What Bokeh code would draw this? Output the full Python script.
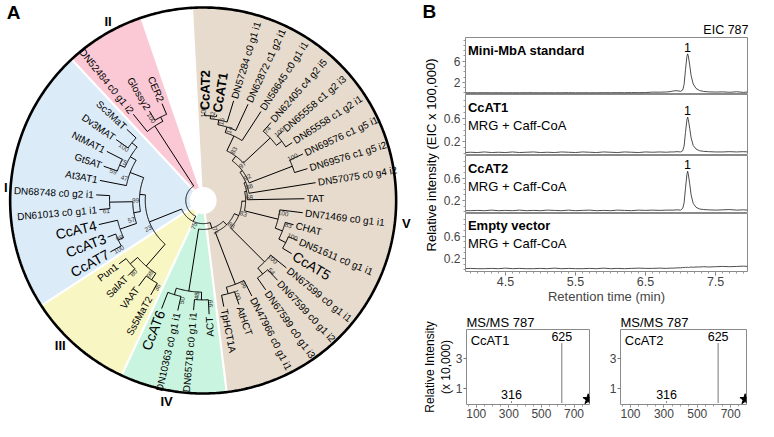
import math
from bokeh.plotting import figure
from bokeh.layouts import row, column
from bokeh.models import Range1d, FixedTicker, Label, Title
from bokeh.core.properties import value
from bokeh.embed import file_html
from bokeh.resources import INLINE

FONT = "Liberation Sans"

# ====================== Panel A data (tree) ======================
leaf_names = ["CcAT2", "CcAT1", "DN57284 c0 g1 i1", "DN62872 c1 g2 i1", "DN58645 c0 g1 i1",
              "DN62405 c4 g2 i5", "DN65558 c1 g2 i3", "DN65558 c1 g2 i1", "DN69576 c1 g5 i1",
              "DN69576 c1 g5 i2", "DN57075 c0 g4 i2", "TAT", "DN71469 c0 g1 i1", "CHAT",
              "DN51611 c0 g1 i1", "CcAT5", "DN67599 c0 g1 i1", "DN67599 c0 g1 i2",
              "DN67599 c0 g1 i3", "DN47966 c0 g1 i1", "AtHCT", "TpHCT1A",
              "ACT", "DN65718 c0 g1 i1", "DN10363 c0 g1 i1", "CcAT6",
              "Ss5MaT2", "VAAT", "SalAT", "Pun1",
              "CcAT7", "CcAT3", "CcAT4", "DN61013 c0 g1 i1", "DN68748 c0 g2 i1", "At3AT1",
              "Gt5AT", "NtMAT1", "Dv3MAT", "Sc3MaT",
              "DN52484 c0 g1 i2", "Glossy2", "CER2"]
leaf_depth = [91, 90, 108, 110, 110, 107, 109, 110, 114, 113, 118, 105, 104, 97, 106,
              107, 111, 113, 113, 111, 114, 112, 118, 114, 117, 120, 112, 111, 110, 109,
              110, 106, 111, 108, 111, 109, 109, 112, 110, 108, 115, 108, 109]
leaf_clade = ["V"] * 22 + ["IV"] * 4 + ["III"] * 4 + ["I"] * 10 + ["II"] * 3
bold_leaves = ["CcAT1", "CcAT2"]
big_leaves = ["CcAT3", "CcAT4", "CcAT5", "CcAT6", "CcAT7"]

# internal nodes: (depth, bootstrap, children)
nd_a = (88, 100, [0, 1])
nd_b = (85, 32, [nd_a, 2])
nd_c = (80, 15, [nd_b, 3])
nd_d = (74, 14, [nd_c, 4])
nd_e = (95, 74, [5, (102, 100, [6, 7])])
nd_f = (57, 83, [nd_d, nd_e])
nd_g = (51, 97, [nd_f, (99, 100, [8, 9])])
nd_h = (48, 92, [nd_g, 10])
nd_i = (46, 88, [nd_h, 11])
nd_j = (80, 100, [12, (88, 83, [13, (96, 100, [14, 15])])])
nd_k = (44, 68, [nd_i, nd_j])
nd_m = (90, 100, [16, (98, 54, [17, 18])])
nd_l = (40, 83, [nd_k, nd_m])
nd_hct = (93, 96, [19, (100, 100, [20, 21])])
clade_V = (35, 86, [nd_l, nd_hct])
clade_IV = (95, 48, [(103, 99, [22, 23]), (102, 50, [24, 25])])
clade_III = (90, 98, [(98, 36, [26, 27]), (100, 80, [28, 29])])
nd_t = (91, 99, [(97, 100, [30, 31]), 32])
nd_u = (97, 61, [33, 34])
nd_v = (73, 57, [nd_t, nd_u])
nd_s = (81, 47, [35, (88, 75, [(94, 59, [36, 37]), (95, 100, [38, 39])])])
clade_I = (66, 99, [nd_v, nd_s])
clade_II = (92, None, [40, (97, 100, [41, 42])])
tree = (18, None, [(24, 75, [(30, 71, [clade_V, clade_IV]), (60, 23, [clade_III, clade_I])]),
                   clade_II])

clade_names = ["V", "IV", "III", "I", "II"]
clade_colors = {"V": "#e6dbcd", "IV": "#c9f4df", "III": "#f8f6c3", "I": "#dcebf8", "II": "#fbc9d5"}

# ====================== Panel B data ======================
rt = [3.93, 4.0, 4.1, 4.2, 4.3, 4.4, 4.5, 4.6, 4.7, 4.8, 4.9, 5.0, 5.1, 5.2, 5.3, 5.4, 5.5,
      5.6, 5.7, 5.8, 5.9, 6.0, 6.1, 6.2, 6.3, 6.4, 6.5, 6.6, 6.7, 6.8, 6.85, 6.9, 6.95, 7.0,
      7.03, 7.05, 7.07, 7.09, 7.1, 7.11, 7.13, 7.15, 7.18, 7.22, 7.27, 7.33, 7.4, 7.5, 7.6,
      7.7, 7.8, 7.9, 7.955]
eic_standard = [0.02, 0.03, 0.02, 0.04, 0.02, 0.03, 0.02, 0.03, 0.02, 0.04, 0.03, 0.02, 0.03,
                0.02, 0.03, 0.04, 0.02, 0.03, 0.02, 0.03, 0.04, 0.03, 0.05, 0.04, 0.06, 0.05,
                0.07, 0.15, 0.14, 0.18, 0.25, 0.38, 0.42, 0.3, 0.55, 1.6, 4.4, 6.9, 7.4, 7.0,
                5.3, 3.3, 1.7, 0.85, 0.45, 0.28, 0.2, 0.16, 0.2, 0.12, 0.22, 0.1, 0.18]
eic_ccat1 = [0.02, 0.025, 0.02, 0.03, 0.02, 0.025, 0.02, 0.03, 0.02, 0.025, 0.03, 0.02, 0.025,
             0.02, 0.03, 0.025, 0.02, 0.03, 0.025, 0.02, 0.03, 0.025, 0.02, 0.03, 0.025, 0.02,
             0.03, 0.025, 0.03, 0.025, 0.03, 0.03, 0.035, 0.03, 0.05, 0.13, 0.36, 0.57, 0.62,
             0.58, 0.43, 0.27, 0.14, 0.08, 0.05, 0.04, 0.035, 0.03, 0.03, 0.035, 0.03, 0.035,
             0.03]
eic_ccat2 = [0.02, 0.02, 0.025, 0.02, 0.03, 0.02, 0.025, 0.02, 0.03, 0.02, 0.025, 0.02, 0.03,
             0.025, 0.02, 0.03, 0.02, 0.025, 0.03, 0.02, 0.025, 0.02, 0.03, 0.025, 0.02, 0.03,
             0.025, 0.03, 0.025, 0.03, 0.03, 0.03, 0.035, 0.03, 0.06, 0.16, 0.42, 0.66, 0.72,
             0.67, 0.5, 0.3, 0.15, 0.08, 0.05, 0.04, 0.035, 0.03, 0.035, 0.04, 0.03, 0.035,
             0.03]
eic_empty = [0.02, 0.025, 0.02, 0.02, 0.025, 0.02, 0.03, 0.02, 0.025, 0.02, 0.02, 0.025, 0.02,
             0.03, 0.02, 0.025, 0.02, 0.02, 0.025, 0.02, 0.03, 0.02, 0.025, 0.02, 0.025, 0.03,
             0.025, 0.025, 0.03, 0.025, 0.03, 0.03, 0.035, 0.035, 0.04, 0.04, 0.045, 0.04,
             0.045, 0.04, 0.045, 0.05, 0.045, 0.05, 0.05, 0.055, 0.05, 0.055, 0.06, 0.055,
             0.06, 0.065, 0.06]
eic_traces = [eic_standard, eic_ccat1, eic_ccat2, eic_empty]
eic_titles = ["Mini-MbA standard", "CcAT1", "CcAT2", "Empty vector"]
eic_subtitles = ["", "MRG + Caff-CoA", "MRG + Caff-CoA", "MRG + Caff-CoA"]
eic_peak_labels = ["1", "1", "1", ""]
eic_ylims = [(-0.3, 10.5), (-0.03, 1.0), (-0.03, 1.0), (-0.03, 1.0)]
eic_yticks = [[2, 6], [0.2, 0.6], [0.2, 0.6], [0.2, 0.6]]
rt_ticks = [4.5, 5.5, 6.5, 7.5]

ms_mz = [316, 625, 787]
ms_ccat1 = [0.12, 4.0, 0.08]
ms_ccat2 = [0.12, 4.0, 0.08]
ms_spectra = [ms_ccat1, ms_ccat2]
ms_samples = ["CcAT1", "CcAT2"]
precursor_mz = 787
ms_xticks = [100, 300, 500, 700]
ms_yticks = [1, 3]

# ====================== helpers ======================
def strip_fig(w, h, xr, yr):
    p = figure(width=w, height=h, x_range=xr, y_range=yr, output_backend="svg",
               toolbar_location=None, x_axis_type=None, y_axis_type=None, title=None,
               min_border_left=0, min_border_right=0, min_border_top=0, min_border_bottom=0)
    p.grid.visible = False
    p.outline_line_color = None
    return p


def draw_texts(p, rows, color="black"):
    groups = {}
    for (x, y, t, a, al, fs, st) in rows:
        groups.setdefault((al, fs, st), []).append((x, y, t, a))
    for (al, fs, st), items in groups.items():
        p.text(x=[i[0] for i in items], y=[i[1] for i in items], text=[i[2] for i in items],
               angle=[i[3] for i in items], text_align=al, text_baseline="middle",
               text_font=value(FONT), text_font_size=fs, text_font_style=st, text_color=color)


def orient(deg):
    d = ((deg + 180.0) % 360.0) - 180.0
    if -85.0 < d < 95.0:
        return math.radians(d), "left"
    return math.radians(d + 180.0), "right"

# ====================== Panel A figure ======================
SC = 0.965
TW, TH = 420, 421
pa = strip_fig(TW, TH, Range1d(-5, -5 + TW / SC), Range1d(-(0.75 + TH / SC), -0.75))

CX, CY, R_OUT, R_HOLE = 205.0, -208.0, 200.0, 14.0
ANG0, STEP = 89.0, 8.0
leaf_ang = [ANG0 - STEP * i for i in range(len(leaf_names))]


def pol(r, deg):
    t = math.radians(deg)
    return CX + r * math.cos(t), CY + r * math.sin(t)


def arc(r, a0, a1):
    n = max(2, int(abs(a1 - a0) / 0.75) + 2)
    pts = [pol(r, a0 + (a1 - a0) * k / (n - 1)) for k in range(n)]
    return [q[0] for q in pts], [q[1] for q in pts]


wx, wy, wc, bounds = [], [], [], []
for c in clade_names:
    idx = [i for i, cc in enumerate(leaf_clade) if cc == c]
    a_hi = leaf_ang[min(idx)] + STEP / 2
    a_lo = leaf_ang[max(idx)] - STEP / 2
    xs, ys = arc(R_OUT, a_hi, a_lo)
    wx.append([CX] + xs)
    wy.append([CY] + ys)
    wc.append(clade_colors[c])
    bounds.append(a_lo)
pa.patches(wx, wy, fill_color=wc, line_color=None)
bx, by = [], []
for a in bounds[:-1]:
    x1, y1 = pol(R_OUT, a)
    bx.append([CX, x1])
    by.append([CY, y1])
pa.multi_line(bx, by, line_color="white", line_width=2.2)
hx, hy = arc(R_HOLE, 0, 360)
pa.patch(hx, hy, fill_color="white", line_color=None)
ox, oy = arc(R_OUT, 0, 360)
pa.line(ox, oy, line_color="black", line_width=2.6)


def n_ang(n):
    if isinstance(n, int):
        return leaf_ang[n]
    return (n_ang(n[2][0]) + n_ang(n[2][-1])) / 2.0


def n_rad(n):
    return leaf_depth[n] if isinstance(n, int) else n[0]


seg_x, seg_y, bs_rows = [], [], []


def walk(n):
    if isinstance(n, int):
        return
    r, bs, kids = n
    xs, ys = arc(r, n_ang(kids[0]), n_ang(kids[-1]))
    seg_x.append(xs)
    seg_y.append(ys)
    for k in kids:
        a = n_ang(k)
        x0, y0 = pol(r, a)
        x1, y1 = pol(n_rad(k), a)
        seg_x.append([x0, x1])
        seg_y.append([y0, y1])
        walk(k)
    if bs is not None:
        ab = n_ang(n) + 5.0
        x, y = pol(r + 4.0, ab)
        ang, _ = orient(ab)
        bs_rows.append((x, y, str(bs), ang, "center", "6.5px", "normal"))


walk(tree)
pa.multi_line(seg_x, seg_y, line_color="black", line_width=1)

leaf_rows = []
for i, name in enumerate(leaf_names):
    x, y = pol(leaf_depth[i] + 2.5, leaf_ang[i])
    ang, al = orient(leaf_ang[i])
    if name in bold_leaves:
        fs, st = "13px", "bold"
    elif name in big_leaves:
        fs, st = "14px", "normal"
    else:
        fs, st = "10px", "normal"
    leaf_rows.append((x, y, name, ang, al, fs, st))
draw_texts(pa, leaf_rows)
draw_texts(pa, bs_rows, color="#333333")

clade_label_pos = {"I": (176.3, 205), "II": (118, 210), "III": (-134.6, 211),
                   "IV": (-100.3, 212), "V": (-6.5, 212)}
cl_rows = []
for c in clade_names:
    a, r = clade_label_pos[c]
    x, y = pol(r, a)
    cl_rows.append((x, y, c, 0.0, "center", "13px", "bold"))
cl_rows.append((8.5, -13.0, "A", 0.0, "center", "19px", "bold"))
draw_texts(pa, cl_rows)

# ====================== Panel B figures ======================
BW = 338
top = strip_fig(BW, 37, Range1d(0, BW), Range1d(0, 37))
draw_texts(top, [(2, 26, "B", 0.0, "left", "19px", "bold"),
                 (328, 8, "EIC 787", 0.0, "right", "12.5px", "normal")])

eic_frame_h = [57, 61, 58, 59]
EIC_AXIS_H = 34
eic_figs = []
for k in range(4):
    last = (k == 3)
    fh = eic_frame_h[k]
    lo, hi = eic_ylims[k]
    p = figure(width=318, height=fh + (EIC_AXIS_H if last else 0),
               x_range=Range1d(3.93, 7.955), y_range=Range1d(lo, hi),
               output_backend="svg", toolbar_location=None, title=None,
               x_axis_type=("linear" if last else None),
               min_border_left=24, min_border_right=11, min_border_top=0,
               min_border_bottom=(EIC_AXIS_H if last else 0))
    p.grid.visible = False
    p.outline_line_color = "#8a8a8a"
    ya = p.yaxis[0]
    if k == 0:
        minor = [float(v) for v in range(0, 11)]
    else:
        minor = [round(0.1 * v, 1) for v in range(0, 10)]
    ya.ticker = FixedTicker(ticks=eic_yticks[k], minor_ticks=minor)
    ya.axis_line_color = None
    ya.major_tick_out, ya.major_tick_in = 3, 0
    ya.minor_tick_out, ya.minor_tick_in = 2, 0
    ya.major_tick_line_color = "#777777"
    ya.minor_tick_line_color = "#999999"
    ya.major_label_text_font = FONT
    ya.major_label_text_font_size = "12px"
    ya.major_label_standoff = 2
    if last:
        xa = p.xaxis[0]
        xa.ticker = FixedTicker(ticks=rt_ticks,
                                minor_ticks=[round(4.0 + 0.1 * v, 1) for v in range(40)])
        xa.axis_line_color = None
        xa.major_tick_out, xa.major_tick_in = 4, 0
        xa.minor_tick_out, xa.minor_tick_in = 2, 0
        xa.major_tick_line_color = "#777777"
        xa.minor_tick_line_color = "#999999"
        xa.major_label_text_font = FONT
        xa.major_label_text_font_size = "12.5px"
        xa.major_label_standoff = 1
        xa.axis_label = "Retention time (min)"
        xa.axis_label_text_font = FONT
        xa.axis_label_text_font_size = "13px"
        xa.axis_label_text_font_style = "normal"
        xa.axis_label_standoff = 0
    vals = eic_traces[k]
    p.line(rt, vals, line_color="#3a3a3a", line_width=0.9)
    span = hi - lo
    rows = [(3.965, hi - 12.5 / fh * span, eic_titles[k], 0.0, "left", "13px", "bold")]
    if eic_subtitles[k]:
        rows.append((3.965, hi - 31.0 / fh * span, eic_subtitles[k], 0.0, "left", "13px", "normal"))
    draw_texts(p, rows)
    if eic_peak_labels[k]:
        im = max(range(len(vals)), key=vals.__getitem__)
        p.text(x=[rt[im]], y=[vals[im] + 2.0 / fh * span], text=[eic_peak_labels[k]],
               text_align="center", text_baseline="bottom", text_font=value(FONT),
               text_font_size="12.5px")
    eic_figs.append(p)

EIC_H = sum(eic_frame_h) + EIC_AXIS_H
ylab1 = strip_fig(20, EIC_H, Range1d(0, 20), Range1d(0, EIC_H))
draw_texts(ylab1, [(10.5, EIC_H - sum(eic_frame_h) / 2.0, "Relative intensity (EIC x 100,000)",
                    math.pi / 2, "center", "13px", "normal")])

MS_H = 421 - 37 - EIC_H
ms_figs = []
ms_dims = [(186, 41, 17), (152, 12, 12)]
for k in range(2):
    w, bl, br = ms_dims[k]
    p = figure(width=w, height=MS_H, x_range=Range1d(40, 795), y_range=Range1d(-0.1, 4.9),
               output_backend="svg", toolbar_location=None, title="MS/MS 787",
               min_border_left=bl, min_border_right=br, min_border_top=23, min_border_bottom=17)
    p.grid.visible = False
    p.outline_line_color = "#8a8a8a"
    p.title.text_font = FONT
    p.title.text_font_size = "13px"
    p.title.text_font_style = "normal"
    p.title.text_color = "black"
    p.title.standoff = 0
    xa, ya = p.xaxis[0], p.yaxis[0]
    xa.ticker = FixedTicker(ticks=ms_xticks, minor_ticks=[50 * v for v in range(1, 16)])
    ya.ticker = FixedTicker(ticks=ms_yticks)
    for ax in (xa, ya):
        ax.axis_line_color = None
        ax.major_tick_out, ax.major_tick_in = 3, 0
        ax.minor_tick_out, ax.minor_tick_in = 2, 0
        ax.major_tick_line_color = "#777777"
        ax.minor_tick_line_color = "#999999"
        ax.major_label_text_font = FONT
        ax.major_label_text_font_size = "12px"
        ax.major_label_standoff = 1
    if k == 0:
        for txt in ("(x 10,000)", "Relative Intensity"):
            p.add_layout(Title(text=txt, align="center", text_font=FONT, text_font_size="12px",
                               text_font_style="normal", text_color="black", standoff=0,
                               offset=0), "left")
    spec = ms_spectra[k]
    p.segment(x0=ms_mz, y0=[0] * len(ms_mz), x1=ms_mz, y1=spec, line_color="#777777",
              line_width=1)
    p.scatter(x=[precursor_mz], y=[0.25], marker="star", size=11, color="black")
    fh = 75.0
    lab_rows = []
    for mz, v in zip(ms_mz, spec):
        if mz != precursor_mz:
            lab_rows.append((mz, v + 0.15, str(mz)))
    p.text(x=[r[0] for r in lab_rows], y=[r[1] for r in lab_rows], text=[r[2] for r in lab_rows],
           text_align="center", text_baseline="bottom", text_font=value(FONT),
           text_font_size="12.5px")
    draw_texts(p, [(66, 4.9 - 11.0 / fh * 5.0, ms_samples[k], 0.0, "left", "13px", "normal")])
    mz_x = 842 if k == 0 else 812
    p.add_layout(Label(x=mz_x, y=-0.1 - 11.0 / fh * 5.0, text="m/z", text_font=FONT,
                       text_font_size="12px", text_align="center", text_baseline="middle"))
    ms_figs.append(p)

colB = column(top, row(ylab1, column(*eic_figs)), row(ms_figs[0], ms_figs[1]))
layout = row(pa, colB)

open("out.html", "w").write(file_html(layout, INLINE))
